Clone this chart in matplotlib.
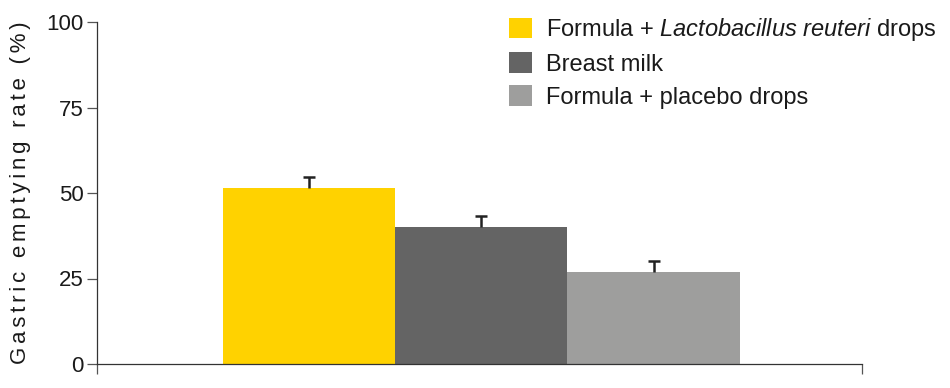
import matplotlib
matplotlib.use("Agg")
import matplotlib.pyplot as plt

# data
groups = ["Formula + $\\mathit{Lactobacillus\\ reuteri}$ drops",
          "Breast milk",
          "Formula + placebo drops"]
rates = [51.4, 40.0, 26.8]
errors = [3.4, 3.4, 3.4]
colors = ["#FFD200", "#646464", "#9E9E9D"]
yticks = [0, 25, 50, 75, 100]
ylabel = "Gastric emptying rate (%)"

plt.rcParams["font.family"] = ["Liberation Sans", "DejaVu Sans"]
plt.rcParams["mathtext.fontset"] = "custom"
plt.rcParams["mathtext.rm"] = "Liberation Sans"
plt.rcParams["mathtext.it"] = "Liberation Sans:italic"

fig = plt.figure(figsize=(9.5, 3.88), dpi=100)
ax = fig.add_axes([97 / 950, 24 / 388, (862 - 97) / 950, (364 - 22) / 388])

x = list(range(len(rates)))
handles = []
for i in x:
    b = ax.bar(i, rates[i], width=1.0, color=colors[i], edgecolor="none",
               label=groups[i], zorder=2)
    handles.append(b)

# one-sided error bars (upper only)
tops = [r + e for r, e in zip(rates, errors)]
ax.vlines(x, rates, tops, color="#222222", linewidth=1.8, zorder=3)
ax.plot(x, tops, linestyle="none", marker="_", markersize=8,
        markeredgewidth=1.8, color="#222222", zorder=3)

ax.set_xlim(-1.23, 3.21)
ax.set_ylim(0, 100)
ax.set_yticks(yticks)
ax.set_xticks([-1.23, 3.21])
ax.set_xticklabels(["", ""])

for s in ["top", "right"]:
    ax.spines[s].set_visible(False)
for s in ["left", "bottom"]:
    ax.spines[s].set_color("#333333")
    ax.spines[s].set_linewidth(0.9)

ax.tick_params(axis="both", direction="out", length=7, width=0.9,
               color="#555555", labelsize=16, labelcolor="#1a1a1a", pad=2.5)

# letter-spaced axis title
ax.set_ylabel("\u2006".join(ylabel), fontsize=16, color="#1a1a1a", labelpad=11)

fig.legend(handles=handles, loc="upper left",
           bbox_to_anchor=(509 / 950, 1 - 16 / 388),
           frameon=False, fontsize=17, borderpad=0, borderaxespad=0,
           handlelength=0.97, handleheight=0.97, handletextpad=0.6,
           labelspacing=0.4, labelcolor="#1a1a1a")

fig.savefig("out.png", dpi=100)
